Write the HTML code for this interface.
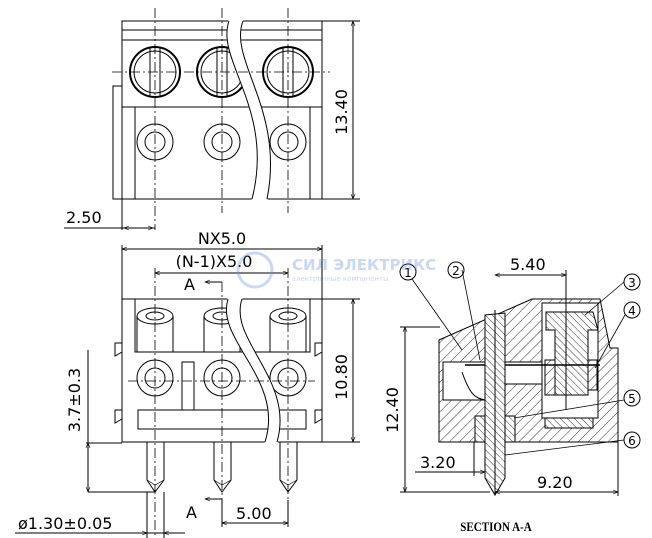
<!DOCTYPE html>
<html><head><meta charset="utf-8"><style>
html,body{margin:0;padding:0;background:#fff;}
svg{display:block;}
text{font-family:"DejaVu Sans","Liberation Sans",sans-serif;fill:#000;}
</style></head><body>
<svg width="652" height="538" viewBox="0 0 652 538" xmlns="http://www.w3.org/2000/svg">
<defs>
<pattern id="h" width="7" height="7" patternUnits="userSpaceOnUse" patternTransform="rotate(45)"><rect width="7" height="7" fill="#fff"/><line x1="0" y1="0" x2="0" y2="7" stroke="#000" stroke-width="0.8"/></pattern>
<pattern id="h2" width="5" height="5" patternUnits="userSpaceOnUse" patternTransform="rotate(-45)"><rect width="5" height="5" fill="#fff"/><line x1="0" y1="0" x2="0" y2="5" stroke="#000" stroke-width="0.8"/></pattern>
<marker id="a" viewBox="0 0 10 10" refX="10" refY="5" markerWidth="7" markerHeight="5" orient="auto-start-reverse" markerUnits="userSpaceOnUse"><path d="M0,1 L10,5 L0,9" fill="none" stroke="#000" stroke-width="1.2"/></marker>
</defs>
<g fill="none" stroke="#000" stroke-width="1">
<!-- TOP VIEW -->
<rect x="122" y="21" width="200" height="178"/>
<line x1="122" y1="30" x2="322" y2="30"/>
<line x1="122" y1="40" x2="322" y2="40"/>
<rect x="113" y="86" width="9" height="113"/>
<line x1="122" y1="107" x2="322" y2="107"/>
<line x1="135" y1="107" x2="135" y2="199"/>
<line x1="310" y1="107" x2="310" y2="199"/>
<g stroke-width="2"><circle cx="155" cy="72" r="25"/><circle cx="222" cy="72" r="25"/><circle cx="288" cy="72" r="25"/></g>
<circle cx="155" cy="72" r="21"/><circle cx="222" cy="72" r="21"/><circle cx="288" cy="72" r="21"/>
<g><line x1="150" y1="48" x2="150" y2="96"/><line x1="160" y1="48" x2="160" y2="96"/><line x1="217" y1="48" x2="217" y2="96"/><line x1="227" y1="48" x2="227" y2="96"/><line x1="283" y1="48" x2="283" y2="96"/><line x1="293" y1="48" x2="293" y2="96"/></g>
<circle cx="155" cy="142" r="18"/><circle cx="155" cy="142" r="10"/>
<circle cx="222" cy="142" r="18"/><circle cx="222" cy="142" r="10"/>
<circle cx="288" cy="142" r="18"/><circle cx="288" cy="142" r="10"/>
<path d="M229,20 C215,60 275,110 252,200 L267,200 C285,110 228,60 243,20 Z" fill="#fff" stroke="#fff"/>
<path d="M229,21 C215,60 275,110 252,199"/><path d="M243,21 C228,60 285,110 267,199"/>
<g stroke-dasharray="10,3,2,3" stroke-width="0.8"><line x1="155" y1="8" x2="155" y2="230"/><line x1="222" y1="8" x2="222" y2="213"/><line x1="288" y1="8" x2="288" y2="213"/><line x1="112" y1="72" x2="330" y2="72"/></g>
<line x1="322" y1="21" x2="360" y2="21"/><line x1="322" y1="199" x2="360" y2="199"/>
<line x1="353" y1="21" x2="353" y2="199" marker-start="url(#a)" marker-end="url(#a)"/>
<line x1="122" y1="199" x2="122" y2="230"/>
<line x1="64" y1="228" x2="155" y2="228"/>
<line x1="124" y1="228" x2="153" y2="228" marker-start="url(#a)" marker-end="url(#a)"/>

<!-- FRONT VIEW -->
<line x1="122" y1="249" x2="322" y2="249" marker-start="url(#a)" marker-end="url(#a)"/>
<line x1="122" y1="245" x2="122" y2="299"/><line x1="322" y1="245" x2="322" y2="299"/>
<line x1="155" y1="273" x2="288" y2="273" marker-start="url(#a)" marker-end="url(#a)"/>
<rect x="122" y="299" width="200" height="143"/>
<rect x="135" y="299" width="175" height="53"/>
<path d="M137,316 V352 M173,316 V352 M204,316 V352 M240,316 V352 M270,316 V352 M306,316 V352"/>
<ellipse cx="155" cy="316" rx="18" ry="8"/><ellipse cx="155" cy="316" rx="9" ry="4"/>
<ellipse cx="222" cy="316" rx="18" ry="8"/><ellipse cx="222" cy="316" rx="9" ry="4"/>
<ellipse cx="288" cy="316" rx="18" ry="8"/><ellipse cx="288" cy="316" rx="9" ry="4"/>
<path d="M122,343 H115 V356 L122,352 M122,410 H115 V423 L122,419"/>
<path d="M322,343 H315 V356 L322,352 M322,410 H315 V423 L322,419"/>
<circle cx="155" cy="378" r="18"/><circle cx="155" cy="378" r="10"/>
<circle cx="222" cy="378" r="18"/><circle cx="222" cy="378" r="10"/>
<circle cx="288" cy="378" r="18"/><circle cx="288" cy="378" r="10"/>
<rect x="182" y="362" width="12" height="48"/>
<rect x="138" y="410" width="168" height="19"/>
<path d="M147,442 V480 L155,492 L164,480 V442 M214,442 V480 L222,492 L231,480 V442 M280,442 V480 L288,492 L297,480 V442"/>
<path d="M147,480 L155,485 L164,480 M214,480 L222,485 L231,480 M280,480 L288,485 L297,480" stroke-width="0.7"/>
<path d="M228,298 C215,340 285,380 265,443 L277,443 C295,380 228,340 242,298 Z" fill="#fff" stroke="#fff"/>
<path d="M228,299 C215,340 285,380 265,442"/><path d="M242,299 C228,340 295,380 277,442"/>
<g stroke-dasharray="10,3,2,3" stroke-width="0.8"><line x1="155" y1="268" x2="155" y2="538"/><line x1="222" y1="282" x2="222" y2="500"/><line x1="288" y1="268" x2="288" y2="505"/><line x1="128" y1="381" x2="315" y2="381"/></g>
<line x1="205" y1="282" x2="222" y2="282" marker-start="url(#a)"/>
<line x1="205" y1="499" x2="222" y2="499" marker-start="url(#a)"/>
<line x1="322" y1="299" x2="360" y2="299"/><line x1="322" y1="442" x2="360" y2="442"/>
<line x1="353" y1="299" x2="353" y2="442" marker-start="url(#a)" marker-end="url(#a)"/>
<line x1="88" y1="350" x2="88" y2="443"/>
<line x1="86" y1="443" x2="122" y2="443"/><line x1="88" y1="492" x2="155" y2="492"/>
<line x1="88" y1="443" x2="88" y2="492" marker-start="url(#a)" marker-end="url(#a)"/>
<line x1="15" y1="533" x2="185" y2="533"/>
<line x1="135" y1="533" x2="147" y2="533" marker-end="url(#a)"/><line x1="176" y1="533" x2="164" y2="533" marker-end="url(#a)"/>
<line x1="147" y1="492" x2="147" y2="538"/><line x1="164" y1="492" x2="164" y2="538"/>
<line x1="222" y1="500" x2="222" y2="527"/><line x1="288" y1="500" x2="288" y2="527"/>
<line x1="222" y1="523" x2="288" y2="523" marker-start="url(#a)" marker-end="url(#a)"/>

<!-- SECTION -->
<path d="M439,442 V340 L532,299 H600 L610,348 H618 V442 Z" fill="url(#h)"/>
<rect x="443" y="362" width="42" height="38" fill="#fff"/>
<path d="M462,372 C470,395 475,398 485,400" />
<rect x="505" y="362" width="37" height="22" fill="#fff"/>
<rect x="542" y="303" width="56" height="115" fill="#fff"/>
<path d="M546,312 H593 L598,330 H588 V395 H555 V330 H546 Z" fill="url(#h2)"/>
<path d="M545,360 H555 V395 H545 Z M588,360 H597 V390 H588 Z" fill="url(#h)"/>
<rect x="545" y="418" width="48" height="10" fill="url(#h2)"/>
<rect x="475" y="416" width="40" height="26" fill="url(#h2)"/>
<line x1="465" y1="365" x2="600" y2="365" stroke-width="1.5"/>
<path d="M485,315 L505,313 V478 L495,495 L485,478 Z" fill="url(#h2)"/>
<line x1="495" y1="310" x2="495" y2="495"/>
<line x1="566" y1="270" x2="566" y2="410"/>
<line x1="495" y1="275" x2="566" y2="275" marker-start="url(#a)" marker-end="url(#a)"/>
<line x1="400" y1="327" x2="440" y2="327"/><line x1="400" y1="492" x2="490" y2="492"/>
<line x1="405" y1="327" x2="405" y2="492" marker-start="url(#a)" marker-end="url(#a)"/>
<line x1="474" y1="442" x2="474" y2="476"/>
<line x1="415" y1="472" x2="485" y2="472"/>
<line x1="474" y1="472" x2="485" y2="472" marker-end="url(#a)"/>
<line x1="618" y1="442" x2="618" y2="496"/>
<line x1="495" y1="492" x2="618" y2="492" marker-start="url(#a)" marker-end="url(#a)"/>
<circle cx="408" cy="272" r="8"/><circle cx="456" cy="270" r="8"/><circle cx="632" cy="282" r="8"/><circle cx="632" cy="310" r="8"/><circle cx="632" cy="398" r="8"/><circle cx="632" cy="440" r="8"/>
<line x1="412" y1="279" x2="462" y2="350" stroke-width="0.8"/>
<line x1="462" y1="270" x2="480" y2="360" stroke-width="0.8"/>
<line x1="624" y1="282" x2="585" y2="315" stroke-width="0.8"/>
<line x1="625" y1="315" x2="595" y2="368" stroke-width="0.8"/>
<line x1="624" y1="400" x2="514" y2="418" stroke-width="0.8"/>
<line x1="624" y1="440" x2="505" y2="455" stroke-width="0.8"/>
</g>
<g font-size="16">
<text x="66" y="223">2.50</text>
<text x="347" y="112" transform="rotate(-90 347 112)" text-anchor="middle">13.40</text>
<text x="222" y="244" text-anchor="middle">NX5.0</text>
<text x="214" y="267" text-anchor="middle">(N-1)X5.0</text>
<text x="184" y="290">A</text>
<text x="186" y="518">A</text>
<text x="347" y="377" transform="rotate(-90 347 377)" text-anchor="middle">10.80</text>
<text x="80" y="400" transform="rotate(-90 80 400)" text-anchor="middle">3.7±0.3</text>
<text x="18" y="529">ø1.30±0.05</text>
<text x="236" y="519">5.00</text>
<text x="510" y="270">5.40</text>
<text x="398" y="410" transform="rotate(-90 398 410)" text-anchor="middle">12.40</text>
<text x="420" y="468">3.20</text>
<text x="537" y="488">9.20</text>
</g>
<g font-size="12" text-anchor="middle"><text x="408" y="277">1</text><text x="456" y="275">2</text><text x="632" y="287">3</text><text x="632" y="315">4</text><text x="632" y="403">5</text><text x="632" y="445">6</text></g>
<text x="496" y="531" text-anchor="middle" font-size="13" font-weight="bold" style="font-family:'Liberation Serif',serif" transform="translate(496 0) scale(0.85 1) translate(-496 0)">SECTION A-A</text>
<g opacity="0.35">
<circle cx="255" cy="270" r="17" fill="none" stroke="#6a8fd8" stroke-width="3"/>
<text x="292" y="270" font-size="15" font-weight="bold" style="fill:#6a8fd8" font-family="Liberation Sans,sans-serif">СИЛ ЭЛЕКТРИКС</text>
<text x="292" y="281" font-size="7" style="fill:#6a8fd8">электронные компоненты</text>
</g>
</svg>
</body></html>
